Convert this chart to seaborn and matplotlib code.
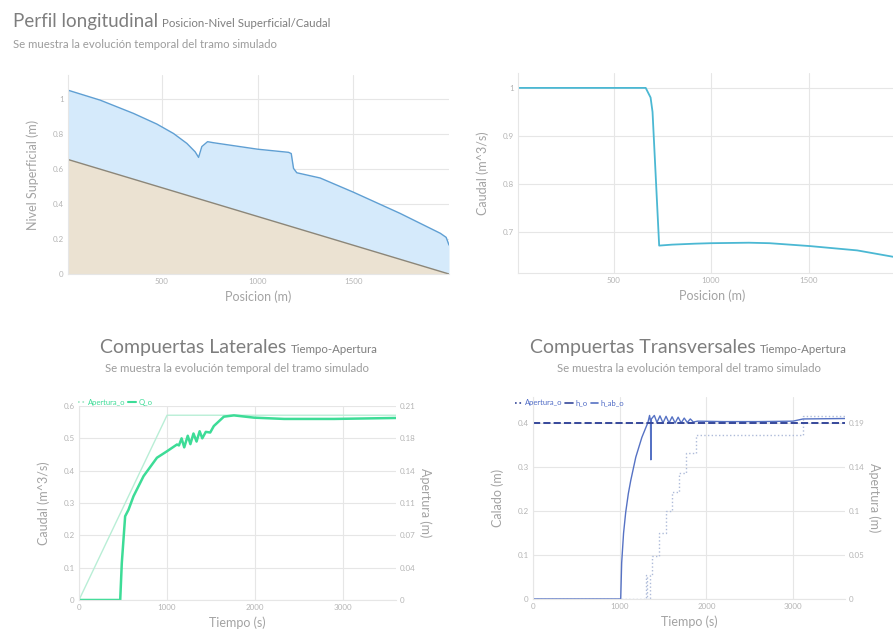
import matplotlib
import matplotlib.pyplot as plt
import seaborn as sns
from matplotlib.lines import Line2D

matplotlib.use("Agg")

# ---------------------------------------------------------------------------
# Data
# ---------------------------------------------------------------------------
# Perfil longitudinal: nivel superficial y fondo del canal
perfil_pos = [10, 178, 352, 474, 561, 631, 674, 692, 709, 739, 770, 1000,
              1162, 1176, 1188, 1205, 1327, 1502, 1745, 1885, 1955, 1985, 2000]
perfil_nivel = [1.053, 0.996, 0.920, 0.859, 0.805, 0.748, 0.700, 0.668, 0.730,
                0.758, 0.752, 0.715, 0.697, 0.690, 0.605, 0.580, 0.550, 0.468,
                0.347, 0.271, 0.233, 0.210, 0.166]
fondo_pos = [10, 2000]
fondo_nivel = [0.656, 0.0]

# Caudal a lo largo del tramo
caudal_pos = [10, 665, 690, 700, 734, 800, 917, 1000, 1194, 1300, 1507, 1750, 1958, 2000]
caudal_val = [1.0, 1.0, 0.98, 0.95, 0.672, 0.674, 0.676, 0.677, 0.678, 0.677,
              0.671, 0.662, 0.647, 0.643]

# Compuertas laterales
lat_t = [0, 468, 486, 524, 562, 619, 733, 885, 999, 1113, 1135, 1165, 1195,
         1235, 1265, 1300, 1335, 1370, 1400, 1440, 1490, 1531, 1645, 1759,
         1987, 2330, 2900, 3600]
lat_q = [0, 0, 0.114, 0.259, 0.279, 0.321, 0.383, 0.440, 0.460, 0.481, 0.478,
         0.500, 0.472, 0.508, 0.482, 0.515, 0.490, 0.522, 0.500, 0.520, 0.518,
         0.538, 0.567, 0.571, 0.564, 0.560, 0.560, 0.563]
lat_ap_t = [0, 1000, 3600]
lat_ap = [0, 0.2, 0.2]
lat_ticks = [0, 0.1, 0.2, 0.3, 0.4, 0.5, 0.6]
lat_ticks_der = ["0", "0.04", "0.07", "0.11", "0.14", "0.18", "0.21"]

# Compuertas transversales
tra_t = [0, 1012, 1023, 1045, 1070, 1100, 1128, 1186, 1256, 1326, 1345, 1356,
         1360, 1366, 1400, 1430, 1465, 1500, 1535, 1570, 1605, 1640, 1675,
         1710, 1745, 1780, 1815, 1850, 1900, 2200, 2600, 3000, 3116, 3600]
tra_h = [0, 0, 0.082, 0.150, 0.198, 0.240, 0.270, 0.323, 0.368, 0.402, 0.418,
         0.405, 0.317, 0.410, 0.418, 0.402, 0.417, 0.401, 0.416, 0.401, 0.415,
         0.401, 0.414, 0.401, 0.412, 0.402, 0.410, 0.403, 0.405, 0.404, 0.404,
         0.405, 0.410, 0.411]
tra_hab_t = [0, 3600]
tra_hab = [0.4, 0.4]
tra_ap_t = [0, 1300, 1320, 1345, 1372, 1453, 1535, 1605, 1686, 1763, 1880, 3116, 3600]
tra_ap = [0, 0.026, 0, 0.026, 0.046, 0.071, 0.095, 0.116, 0.136, 0.158, 0.177, 0.198, 0.198]
tra_ticks = [0, 0.1, 0.2, 0.3, 0.4]
tra_ticks_der = ["0", "0.05", "0.1", "0.14", "0.19"]

# ---------------------------------------------------------------------------
# Style
# ---------------------------------------------------------------------------
sns.set_theme(style="whitegrid")
plt.rcParams["font.family"] = ["Lato", "DejaVu Sans"]

W, H = 893, 637
GRID = "#e6e6e6"
TICK = "#b5b5b5"
LABEL = "#a3a3a3"
TITLE = "#7e7e7e"
SUB = "#9c9c9c"
SUBTITULO = "Se muestra la evolución temporal del tramo simulado"


def rect(l, t, r, b):
    return [l / W, 1 - b / H, (r - l) / W, (b - t) / H]


def estilo(ax):
    ax.set_facecolor("white")
    ax.grid(True, color=GRID, linewidth=0.8)
    for s in ["top", "right"]:
        ax.spines[s].set_visible(False)
    for s in ["left", "bottom"]:
        ax.spines[s].set_color(GRID)
        ax.spines[s].set_linewidth(0.8)
    ax.tick_params(length=0, pad=3, labelsize=5.8, labelcolor=TICK)


def eje_derecho(ax, lim, ticks, labels):
    axr = ax.twinx()
    axr.set_ylim(0, lim)
    axr.set_yticks(ticks)
    axr.set_yticklabels(labels)
    axr.grid(False)
    for s in axr.spines.values():
        s.set_visible(False)
    axr.tick_params(length=0, pad=3, labelsize=5.8, labelcolor=TICK)
    axr.set_ylabel("Apertura (m)", fontsize=9, color=LABEL, rotation=270, labelpad=11)
    return axr


def titulo(ax, x, y, grande, chico, size=13):
    t = ax.figure.text(x / W, 1 - y / H, grande, fontsize=size, color=TITLE,
                       ha="left", va="baseline")
    ax.annotate(chico, xy=(1, 0), xycoords=t, xytext=(3, 1),
                textcoords="offset points", fontsize=8.3, color=TITLE,
                ha="left", va="bottom")


fig = plt.figure(figsize=(W / 100, H / 100), dpi=100)

# ---------------------------------------------------------------------------
# Perfil longitudinal (nivel)
# ---------------------------------------------------------------------------
ax1 = fig.add_axes(rect(68, 75, 449, 274))
estilo(ax1)
ax1.fill_between(perfil_pos, perfil_nivel, color="#d5eafb", linewidth=0)
ax1.fill_between(fondo_pos, fondo_nivel, color="#ebe2d2", linewidth=0)
sns.lineplot(x=perfil_pos, y=perfil_nivel, ax=ax1, color="#5f9fd3",
             linewidth=1.0, estimator=None, sort=False)
sns.lineplot(x=fondo_pos, y=fondo_nivel, ax=ax1, color="#8c8678",
             linewidth=1.0, estimator=None, sort=False)
ax1.set_xlim(10, 2000)
ax1.set_ylim(0, 1.14)
ax1.set_xticks([500, 1000, 1500])
ax1.set_yticks([0, 0.2, 0.4, 0.6, 0.8, 1.0])
ax1.set_yticklabels(["0", "0.2", "0.4", "0.6", "0.8", "1"])
ax1.set_xlabel("Posicion (m)", fontsize=9, color=LABEL, labelpad=4)
ax1.set_ylabel("Nivel Superficial (m)", fontsize=9, color=LABEL, labelpad=10)

titulo(ax1, 13, 27, "Perfil longitudinal", "Posicion-Nivel Superficial/Caudal", size=13.5)
fig.text(13 / W, 1 - 48 / H, SUBTITULO, fontsize=8.2, color=SUB,
         ha="left", va="baseline")

# ---------------------------------------------------------------------------
# Perfil longitudinal (caudal)
# ---------------------------------------------------------------------------
ax2 = fig.add_axes(rect(518, 73, 906, 273))
estilo(ax2)
sns.lineplot(x=caudal_pos, y=caudal_val, ax=ax2, color="#4bb8d3",
             linewidth=1.3, estimator=None, sort=False)
ax2.set_xlim(10, 2000)
ax2.set_ylim(0.615, 1.031)
ax2.set_xticks([500, 1000, 1500])
ax2.set_yticks([0.7, 0.8, 0.9, 1.0])
ax2.set_yticklabels(["0.7", "0.8", "0.9", "1"])
ax2.set_xlabel("Posicion (m)", fontsize=9, color=LABEL, labelpad=4)
ax2.set_ylabel("Caudal (m^3/s)", fontsize=9, color=LABEL, labelpad=10)

# ---------------------------------------------------------------------------
# Compuertas laterales
# ---------------------------------------------------------------------------
ax3 = fig.add_axes(rect(79, 406, 396, 600))
estilo(ax3)
sns.lineplot(x=lat_ap_t, y=[v / 0.35 for v in lat_ap], ax=ax3, color="#b9eed6",
             linewidth=1.0, estimator=None, sort=False)
sns.lineplot(x=lat_t, y=lat_q, ax=ax3, color="#3ddc97", linewidth=1.8,
             estimator=None, sort=False)
ax3.set_xlim(0, 3600)
ax3.set_ylim(0, 0.6)
ax3.set_xticks([0, 1000, 2000, 3000])
ax3.set_yticks(lat_ticks)
ax3.set_yticklabels(["0", "0.1", "0.2", "0.3", "0.4", "0.5", "0.6"])
ax3.set_xlabel("Tiempo (s)", fontsize=9, color=LABEL, labelpad=4)
ax3.set_ylabel("Caudal (m^3/s)", fontsize=9, color=LABEL, labelpad=10)
eje_derecho(ax3, 0.21, [v * 0.35 for v in lat_ticks], lat_ticks_der)

titulo(ax3, 100, 353, "Compuertas Laterales", "Tiempo-Apertura", size=14)
fig.text(237 / W, 1 - 372 / H, SUBTITULO, fontsize=8.2, color=SUB,
         ha="center", va="baseline")
fig.legend([Line2D([], [], color="#9fe6c4", linestyle=":", lw=1.2),
            Line2D([], [], color="#3ddc97", lw=1.5)],
           ["Apertura_o", "Q_o"], loc="center left",
           bbox_to_anchor=(78 / W, 1 - 402 / H), ncol=2, frameon=False,
           fontsize=5.5, handlelength=1.0, handletextpad=0.3, columnspacing=0.4,
           labelcolor="#3ddc97", borderaxespad=0, borderpad=0)

# ---------------------------------------------------------------------------
# Compuertas transversales
# ---------------------------------------------------------------------------
ax4 = fig.add_axes(rect(533, 397, 845, 599))
estilo(ax4)
sns.lineplot(x=tra_ap_t, y=[v / 0.475 for v in tra_ap], ax=ax4, color="#aebbd9",
             linewidth=1.0, linestyle=":", drawstyle="steps-post",
             estimator=None, sort=False)
sns.lineplot(x=tra_t, y=tra_h, ax=ax4, color="#5672c4", linewidth=1.0,
             estimator=None, sort=False)
sns.lineplot(x=tra_hab_t, y=tra_hab, ax=ax4, color="#36489a", linewidth=1.4,
             linestyle="--", estimator=None, sort=False)
ax4.set_xlim(0, 3600)
ax4.set_ylim(0, 0.46)
ax4.set_xticks([0, 1000, 2000, 3000])
ax4.set_yticks(tra_ticks)
ax4.set_yticklabels(["0", "0.1", "0.2", "0.3", "0.4"])
ax4.set_xlabel("Tiempo (s)", fontsize=9, color=LABEL, labelpad=4)
ax4.set_ylabel("Calado (m)", fontsize=9, color=LABEL, labelpad=10)
eje_derecho(ax4, 0.46 * 0.475, [v * 0.475 for v in tra_ticks], tra_ticks_der)

titulo(ax4, 530, 353, "Compuertas Transversales", "Tiempo-Apertura", size=14)
fig.text(689 / W, 1 - 372 / H, SUBTITULO, fontsize=8.2, color=SUB,
         ha="center", va="baseline")
fig.legend([Line2D([], [], color="#36489a", linestyle=":", lw=1.2),
            Line2D([], [], color="#36489a", lw=1.2),
            Line2D([], [], color="#5672c4", lw=1.2)],
           ["Apertura_o", "h_o", "h_ab_o"], loc="center left",
           bbox_to_anchor=(515 / W, 1 - 403 / H), ncol=3, frameon=False,
           fontsize=5.5, handlelength=1.0, handletextpad=0.3, columnspacing=0.4,
           labelcolor="#4f6bc6", borderaxespad=0, borderpad=0)

fig.savefig("out.png", dpi=100, facecolor="white")
